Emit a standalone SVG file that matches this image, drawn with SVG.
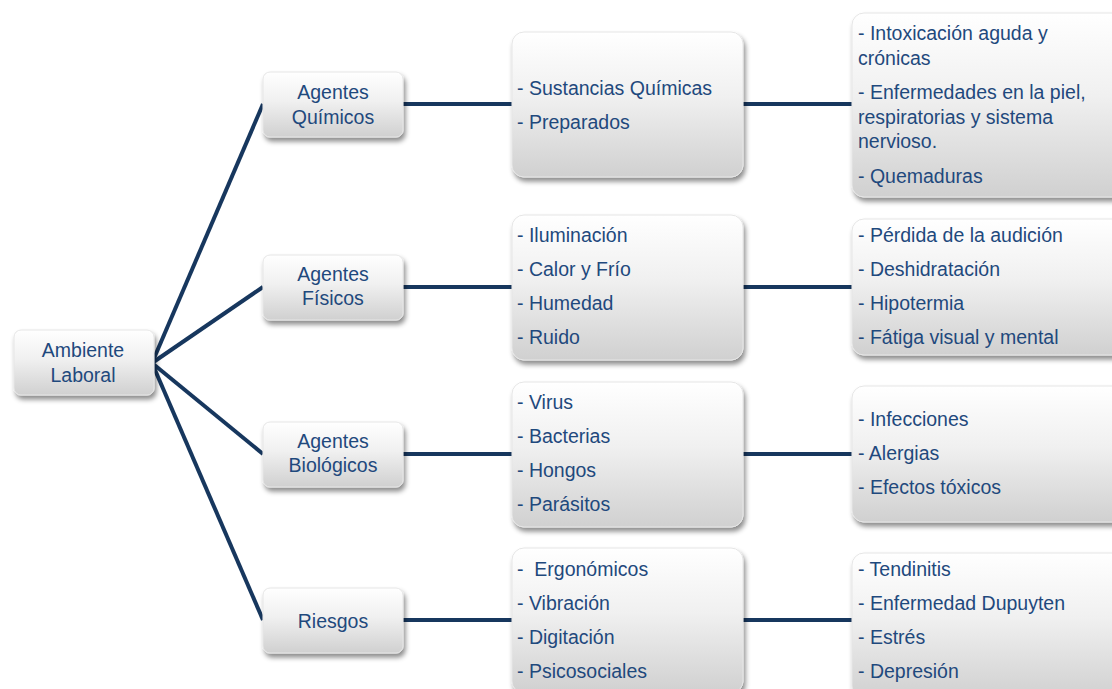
<svg xmlns="http://www.w3.org/2000/svg" width="1112" height="689" viewBox="0 0 1112 689">
<defs>
<linearGradient id="g" x1="0" y1="0" x2="0" y2="1">
<stop offset="0" stop-color="#ffffff"/>
<stop offset="0.45" stop-color="#f0f0f0"/>
<stop offset="1" stop-color="#d0d0d0"/>
</linearGradient>
<filter id="sh" x="-10%" y="-10%" width="130%" height="130%">
<feDropShadow dx="2" dy="4" stdDeviation="2.5" flood-color="#000" flood-opacity="0.45"/>
</filter>
</defs>
<style>
.box{fill:url(#g);stroke:#e6e6e6;stroke-width:1;filter:url(#sh)}
.t{font-family:"Liberation Sans",Arial,sans-serif;font-size:19.5px;fill:#1f497d;white-space:pre}
.c{text-anchor:middle}
.ln{stroke:#17375e;stroke-width:4;fill:none}
</style>
<rect width="1112" height="689" fill="#ffffff"/>
<g id="connectors">
<line class="ln" x1="152" y1="363" x2="263" y2="104"/>
<line class="ln" x1="152" y1="363" x2="263" y2="287"/>
<line class="ln" x1="152" y1="363" x2="263" y2="454"/>
<line class="ln" x1="152" y1="363" x2="263" y2="620"/>
<line class="ln" x1="403" y1="104" x2="513" y2="104"/>
<line class="ln" x1="403" y1="287" x2="513" y2="287"/>
<line class="ln" x1="403" y1="454" x2="513" y2="454"/>
<line class="ln" x1="403" y1="620" x2="513" y2="620"/>
<line class="ln" x1="742" y1="104" x2="853" y2="104"/>
<line class="ln" x1="742" y1="287" x2="853" y2="287"/>
<line class="ln" x1="742" y1="454" x2="853" y2="454"/>
<line class="ln" x1="742" y1="620" x2="853" y2="620"/>
</g>
<g id="ambiente">
<rect class="box" x="14" y="330" width="140" height="65" rx="7"/>
<text class="t c" x="83" y="357">Ambiente</text>
<text class="t c" x="83" y="382">Laboral</text>
</g>
<g id="quimicos">
<rect class="box" x="263" y="72" width="140" height="65" rx="7"/>
<text class="t c" x="333" y="99">Agentes</text>
<text class="t c" x="333" y="124">Químicos</text>
</g>
<g id="fisicos">
<rect class="box" x="263" y="255" width="140" height="65" rx="7"/>
<text class="t c" x="333" y="281">Agentes</text>
<text class="t c" x="333" y="305">Físicos</text>
</g>
<g id="biologicos">
<rect class="box" x="263" y="422" width="140" height="65" rx="7"/>
<text class="t c" x="333" y="448">Agentes</text>
<text class="t c" x="333" y="472">Biológicos</text>
</g>
<g id="riesgos">
<rect class="box" x="263" y="588" width="140" height="65" rx="7"/>
<text class="t c" x="333" y="628">Riesgos</text>
</g>
<g id="m1">
<rect class="box" x="512" y="32" width="231" height="145" rx="12"/>
<text class="t" x="517" y="95">- Sustancias Químicas</text>
<text class="t" x="517" y="129">- Preparados</text>
</g>
<g id="m2">
<rect class="box" x="512" y="215" width="231" height="145" rx="12"/>
<text class="t" x="517" y="242">- Iluminación</text>
<text class="t" x="517" y="276">- Calor y Frío</text>
<text class="t" x="517" y="310">- Humedad</text>
<text class="t" x="517" y="344">- Ruido</text>
</g>
<g id="m3">
<rect class="box" x="512" y="382" width="231" height="145" rx="12"/>
<text class="t" x="517" y="409">- Virus</text>
<text class="t" x="517" y="443">- Bacterias</text>
<text class="t" x="517" y="477">- Hongos</text>
<text class="t" x="517" y="511">- Parásitos</text>
</g>
<g id="m4">
<rect class="box" x="512" y="548" width="231" height="145" rx="12"/>
<text class="t" x="517" y="576">-  Ergonómicos</text>
<text class="t" x="517" y="610">- Vibración</text>
<text class="t" x="517" y="644">- Digitación</text>
<text class="t" x="517" y="678">- Psicosociales</text>
</g>
<g id="r1">
<rect class="box" x="852" y="13" width="280" height="184" rx="12"/>
<text class="t" x="858" y="40">- Intoxicación aguda y</text>
<text class="t" x="858" y="65">crónicas</text>
<text class="t" x="858" y="99">- Enfermedades en la piel,</text>
<text class="t" x="858" y="124">respiratorias y sistema</text>
<text class="t" x="858" y="148">nervioso.</text>
<text class="t" x="858" y="183">- Quemaduras</text>
</g>
<g id="r2">
<rect class="box" x="852" y="219" width="280" height="136" rx="12"/>
<text class="t" x="858" y="242">- Pérdida de la audición</text>
<text class="t" x="858" y="276">- Deshidratación</text>
<text class="t" x="858" y="310">- Hipotermia</text>
<text class="t" x="858" y="344">- Fátiga visual y mental</text>
</g>
<g id="r3">
<rect class="box" x="852" y="386" width="280" height="136" rx="12"/>
<text class="t" x="858" y="426">- Infecciones</text>
<text class="t" x="858" y="460">- Alergias</text>
<text class="t" x="858" y="494">- Efectos tóxicos</text>
</g>
<g id="r4">
<rect class="box" x="852" y="553" width="280" height="145" rx="12"/>
<text class="t" x="858" y="576">- Tendinitis</text>
<text class="t" x="858" y="610">- Enfermedad Dupuyten</text>
<text class="t" x="858" y="644">- Estrés</text>
<text class="t" x="858" y="678">- Depresión</text>
</g>
</svg>
